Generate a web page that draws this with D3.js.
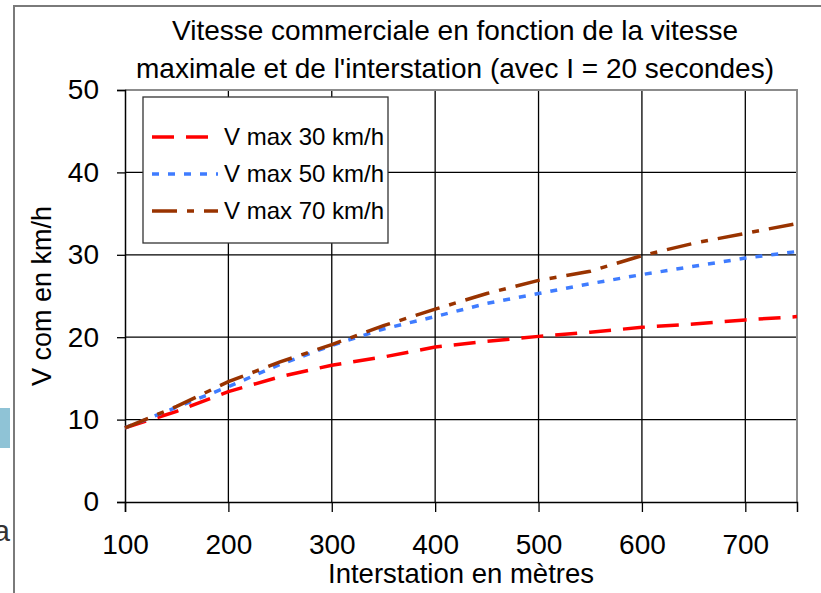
<!DOCTYPE html>
<html>
<head>
<meta charset="utf-8">
<script src="https://cdn.jsdelivr.net/npm/d3@7"></script>
<style>
  body { margin: 0; background: #fff; }
  svg { display: block; }
  text { font-family: "Liberation Sans", Arial, sans-serif; fill: #000; }
</style>
</head>
<body>
<div id="chart"></div>
<script>
"use strict";

const width = 821;
const height = 593;

// interstation distance in metres
const interstation = [100, 150, 200, 250, 300, 350, 400, 450, 500, 550, 600, 650, 700, 750];

// commercial speed (km/h)
const vmax30 = [9.0, 11.0, 13.4, 15.2, 16.6, 17.6, 18.8, 19.5, 20.1, 20.6, 21.2, 21.6, 22.1, 22.5];
const vmax50 = [9.0, 11.5, 14.0, 16.7, 19.0, 21.0, 22.5, 24.1, 25.3, 26.5, 27.6, 28.6, 29.6, 30.4];
const vmax70 = [9.0, 11.6, 14.6, 17.0, 19.1, 21.4, 23.4, 25.3, 26.9, 28.0, 29.9, 31.4, 32.6, 33.8];

const seriesNames = ["V max 30 km/h", "V max 50 km/h", "V max 70 km/h"];
const seriesColors = ["#ff0000", "#3f7cff", "#993300"];
const seriesDashes = ["22,12", "7,9", "25,10,7,10"];

const xTicks = [100, 200, 300, 400, 500, 600, 700];
const yTicks = [0, 10, 20, 30, 40, 50];

const titleLines = [
  "Vitesse commerciale en fonction de la vitesse",
  "maximale et de l'interstation (avec I = 20 secondes)"
];

const plot = { left: 125, right: 797, top: 90, bottom: 502 };

const x = d3.scaleLinear()
  .domain([100, 750])
  .range([plot.left, plot.right]);

const y = d3.scaleLinear()
  .domain([0, 50])
  .range([plot.bottom, plot.top]);

const svg = d3.select("#chart").append("svg")
  .attr("width", width)
  .attr("height", height);

// leftovers of the slide around the chart
svg.append("rect")
  .attr("x", 0)
  .attr("y", 408)
  .attr("width", 10)
  .attr("height", 40)
  .attr("fill", "#8fc3d6");

svg.append("text")
  .attr("x", 10)
  .attr("y", 541)
  .attr("text-anchor", "end")
  .style("font-family", "Liberation Sans, Arial, sans-serif")
  .style("font-size", "30px")
  .style("fill", "#333")
  .text("a");

// outer frame
svg.append("path")
  .attr("d", "M 14 " + height + " L 14 6 L " + width + " 6")
  .attr("fill", "none")
  .attr("stroke", "#7a7a7a")
  .attr("stroke-width", 2);

// title
svg.append("g")
  .selectAll("text")
  .data(titleLines)
  .join("text")
  .attr("x", 455)
  .attr("y", (d, i) => 40 + i * 38)
  .attr("text-anchor", "middle")
  .style("font-size", "28px")
  .text(d => d);

// grid
const grid = svg.append("g");

grid.selectAll(".hgrid")
  .data(yTicks.filter(v => v > 0 && v < 50))
  .join("line")
  .attr("class", "hgrid")
  .attr("x1", plot.left)
  .attr("x2", plot.right)
  .attr("y1", d => y(d))
  .attr("y2", d => y(d))
  .attr("stroke", "#000")
  .attr("stroke-width", 1.3);

grid.selectAll(".vgrid")
  .data(xTicks.filter(v => v > 100))
  .join("line")
  .attr("class", "vgrid")
  .attr("x1", d => x(d))
  .attr("x2", d => x(d))
  .attr("y1", plot.top)
  .attr("y2", plot.bottom)
  .attr("stroke", "#000")
  .attr("stroke-width", 1.3);

// top and right border of the plot area
svg.append("path")
  .attr("d", "M " + plot.left + " " + plot.top + " L " + plot.right + " " + plot.top + " L " + plot.right + " " + plot.bottom)
  .attr("fill", "none")
  .attr("stroke", "#8c8c8c")
  .attr("stroke-width", 2);

// axes
const xAxis = svg.append("g")
  .attr("transform", "translate(0," + plot.bottom + ")")
  .call(d3.axisBottom(x).tickValues(xTicks).tickSize(10).tickPadding(22));

const yAxis = svg.append("g")
  .attr("transform", "translate(" + plot.left + ",0)")
  .call(d3.axisLeft(y).tickValues(yTicks).tickSize(8).tickPadding(18));

[xAxis, yAxis].forEach(function(axis) {
  axis.select(".domain").attr("stroke", "#000").attr("stroke-width", 1.5);
  axis.selectAll(".tick line").attr("stroke", "#000").attr("stroke-width", 1.3);
  axis.selectAll(".tick text")
    .attr("fill", "#000")
    .style("font-family", "Liberation Sans, Arial, sans-serif")
    .style("font-size", "28px");
});

xAxis.selectAll(".tick text").attr("dy", "0.71em");

svg.append("text")
  .attr("x", (plot.left + plot.right) / 2)
  .attr("y", 583)
  .attr("text-anchor", "middle")
  .style("font-size", "27.5px")
  .text("Interstation en mètres");

svg.append("text")
  .attr("transform", "translate(51," + (plot.top + plot.bottom) / 2 + ") rotate(-90)")
  .attr("text-anchor", "middle")
  .style("font-size", "27px")
  .text("V com en km/h");

// series
const series = [vmax30, vmax50, vmax70].map(function(values, i) {
  return {
    name: seriesNames[i],
    color: seriesColors[i],
    dash: seriesDashes[i],
    points: interstation.map((d, j) => [d, values[j]])
  };
});

const line = d3.line()
  .x(d => x(d[0]))
  .y(d => y(d[1]));

svg.append("g")
  .selectAll("path")
  .data(series)
  .join("path")
  .attr("d", d => line(d.points))
  .attr("fill", "none")
  .attr("stroke", d => d.color)
  .attr("stroke-width", 3.5)
  .attr("stroke-dasharray", d => d.dash);

// legend
const legend = svg.append("g");

legend.append("rect")
  .attr("x", 143)
  .attr("y", 97)
  .attr("width", 245)
  .attr("height", 146)
  .attr("fill", "#fff")
  .attr("stroke", "#333")
  .attr("stroke-width", 1.3);

const entries = legend.selectAll(".entry")
  .data(series)
  .join("g")
  .attr("class", "entry")
  .attr("transform", (d, i) => "translate(0," + (137 + i * 37) + ")");

entries.append("line")
  .attr("x1", 152)
  .attr("x2", 218)
  .attr("stroke", d => d.color)
  .attr("stroke-width", 3.5)
  .attr("stroke-dasharray", d => d.dash);

entries.append("text")
  .attr("x", 224)
  .attr("y", 8)
  .style("font-size", "24px")
  .text(d => d.name);
</script>
</body>
</html>
